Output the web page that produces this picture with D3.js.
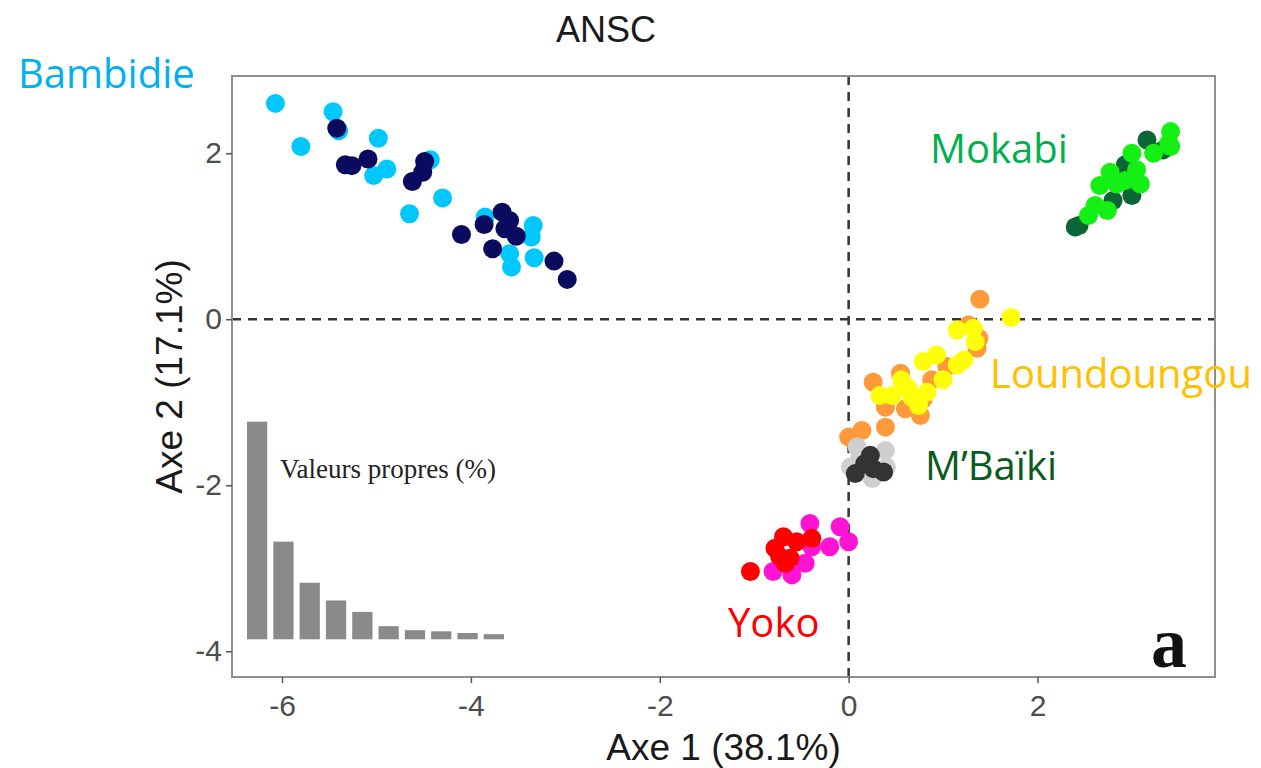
<!DOCTYPE html>
<html>
<head>
<meta charset="utf-8">
<script src="https://cdn.jsdelivr.net/npm/d3@7"></script>
<style>
  body { margin: 0; background: #fff; }
  svg { display: block; }
</style>
</head>
<body>
<svg id="chart" width="1261" height="768"></svg>
<script>
// PCA scores: [axe1, axe2]
const bambidieLight = [[-6.07, 2.60], [-5.46, 2.50], [-5.80, 2.08], [-4.98, 2.18], [-5.03, 1.73], [-4.89, 1.81],
  [-4.43, 1.92], [-4.30, 1.46], [-4.65, 1.27], [-3.85, 1.23], [-3.34, 1.13], [-3.36, 0.99], [-3.59, 0.79],
  [-3.57, 0.63], [-3.33, 0.74], [-5.40, 2.27]];
const bambidieDark = [[-5.42, 2.30], [-5.33, 1.86], [-5.26, 1.85], [-5.09, 1.93], [-4.49, 1.90], [-4.51, 1.77],
  [-4.62, 1.66], [-4.10, 1.02], [-3.86, 1.14], [-3.67, 1.29], [-3.59, 1.19], [-3.64, 1.09], [-3.52, 1.00],
  [-3.77, 0.85], [-3.12, 0.70], [-2.98, 0.48]];
const mokabiDark = [[2.44, 1.13], [2.40, 1.11], [3.16, 2.16], [2.93, 1.86], [3.00, 1.49], [3.33, 2.04], [2.80, 1.43], [2.87, 1.67]];
const mokabiLight = [[3.41, 2.26], [3.39, 2.12], [3.23, 2.00], [3.00, 2.00], [2.77, 1.77], [3.05, 1.80], [3.09, 1.63],
  [2.66, 1.61], [2.84, 1.63], [2.61, 1.37], [2.74, 1.31], [2.93, 1.67], [3.41, 2.08], [2.54, 1.25]];
const loundoungouOrange = [[1.39, 0.24], [1.27, -0.07], [1.38, -0.23], [1.36, -0.35], [0.55, -0.65], [0.26, -0.76],
  [0.88, -0.73], [1.04, -0.57], [0.39, -1.06], [0.60, -1.08], [0.76, -1.16], [0.39, -1.30], [0.14, -1.34],
  [0.00, -1.42], [0.79, -0.96]];
const loundoungouYellow = [[1.72, 0.02], [1.15, -0.13], [1.32, -0.11], [1.34, -0.27], [0.93, -0.43], [0.79, -0.51],
  [1.22, -0.49], [1.15, -0.55], [1.00, -0.73], [0.56, -0.73], [0.33, -0.92], [0.46, -0.92], [0.63, -0.83],
  [0.83, -0.88], [0.74, -1.04], [0.67, -0.94]];
const mbaikiLight = [[0.09, -1.54], [0.39, -1.58], [0.02, -1.78], [0.25, -1.92], [0.40, -1.78], [0.12, -1.66]];
const mbaikiDark = [[0.23, -1.64], [0.17, -1.74], [0.07, -1.86], [0.37, -1.84], [0.26, -1.80]];
const yokoMagenta = [[-0.41, -2.46], [-0.09, -2.50], [0.00, -2.68], [-0.20, -2.74], [-0.39, -2.74], [-0.46, -2.94],
  [-0.80, -3.04], [-0.60, -3.08]];
const yokoRed = [[-1.04, -3.04], [-0.78, -2.76], [-0.69, -2.62], [-0.55, -2.68], [-0.39, -2.64], [-0.67, -2.94],
  [-0.73, -2.86], [-0.62, -2.88]];

// eigenvalues inset (%)
const eigenValues = [38.1, 17.1, 9.9, 6.8, 4.8, 2.3, 1.6, 1.4, 1.1, 0.9];

const xTicks = [-6, -4, -2, 0, 2];
const yTicks = [-4, -2, 0, 2];

const groups = [
  { points: bambidieLight, color: '#00c8ff' },
  { points: bambidieDark, color: '#0a0a5e' },
  { points: mokabiDark, color: '#0a6634' },
  { points: mokabiLight, color: '#14f014' },
  { points: loundoungouOrange, color: '#ff9a3a' },
  { points: loundoungouYellow, color: '#ffff0a' },
  { points: mbaikiLight, color: '#cfcfcf' },
  { points: mbaikiDark, color: '#333333' },
  { points: yokoMagenta, color: '#ff14d4' },
  { points: yokoRed, color: '#ff0000' }
];

const labels = [
  { text: 'Bambidie', x: 18, y: 88, color: '#00b0f0' },
  { text: 'Mokabi', x: 930, y: 163, color: '#00b050' },
  { text: 'Loundoungou', x: 990, y: 388, color: '#ffc000' },
  { text: 'M\u2019Baïki', x: 925, y: 480, color: '#0a5a1e' },
  { text: 'Yoko', x: 728, y: 637, color: '#ff0000' }
];

const svg = d3.select('#chart');
const panel = { left: 232, right: 1215, top: 76, bottom: 677 };

const x = d3.scaleLinear().domain([-6.53, 3.88]).range([panel.left, panel.right]);
const y = d3.scaleLinear().domain([-4.31, 2.93]).range([panel.bottom, panel.top]);

// title
svg.append('text')
  .attr('x', 606).attr('y', 42)
  .attr('text-anchor', 'middle')
  .attr('font-family', 'Liberation Sans, Arial, sans-serif')
  .attr('font-size', 36)
  .attr('fill', '#1a1a1a')
  .text('ANSC');

// scree inset
const barX = d3.scaleBand().domain(d3.range(eigenValues.length)).range([247, 504]).paddingInner(0.23);
const barY = d3.scaleLinear().domain([0, 38.1]).range([639.3, 421.7]);
svg.append('g').selectAll('rect')
  .data(eigenValues)
  .join('rect')
  .attr('x', (d, i) => barX(i))
  .attr('y', d => barY(d))
  .attr('width', barX.bandwidth())
  .attr('height', d => barY(0) - barY(d))
  .attr('fill', '#8a8a8a');
svg.append('text')
  .attr('x', 280).attr('y', 478)
  .attr('font-family', 'Liberation Serif, Times New Roman, serif')
  .attr('font-size', 27)
  .attr('fill', '#222')
  .text('Valeurs propres (%)');

// reference lines
svg.append('line')
  .attr('x1', panel.left).attr('x2', panel.right)
  .attr('y1', y(0)).attr('y2', y(0))
  .attr('stroke', '#333').attr('stroke-width', 2.5).attr('stroke-dasharray', '9,7');
svg.append('line')
  .attr('x1', x(0)).attr('x2', x(0))
  .attr('y1', panel.top).attr('y2', panel.bottom)
  .attr('stroke', '#333').attr('stroke-width', 2.5).attr('stroke-dasharray', '9,7');

// points
const dotLayer = svg.append('g');
groups.forEach(g => {
  dotLayer.append('g').selectAll('circle')
    .data(g.points)
    .join('circle')
    .attr('cx', d => x(d[0]))
    .attr('cy', d => y(d[1]))
    .attr('r', 9.5)
    .attr('fill', g.color);
});

// panel border
svg.append('rect')
  .attr('x', panel.left).attr('y', panel.top)
  .attr('width', panel.right - panel.left)
  .attr('height', panel.bottom - panel.top)
  .attr('fill', 'none')
  .attr('stroke', '#8f8f8f')
  .attr('stroke-width', 2);

// axes
const xAxis = svg.append('g')
  .attr('transform', `translate(0,${panel.bottom})`)
  .call(d3.axisBottom(x).tickValues(xTicks).tickSize(6).tickPadding(12));
const yAxis = svg.append('g')
  .attr('transform', `translate(${panel.left},0)`)
  .call(d3.axisLeft(y).tickValues(yTicks).tickSize(6).tickPadding(4));
[xAxis, yAxis].forEach(ax => {
  ax.select('.domain').remove();
  ax.selectAll('line').attr('stroke', '#555').attr('stroke-width', 1.5);
  ax.selectAll('text')
    .attr('font-family', 'Liberation Sans, Arial, sans-serif')
    .attr('font-size', 30)
    .attr('fill', '#4d4d4d')
    .text(d => String(d)); // plain hyphen like the original
});

// axis titles
svg.append('text')
  .attr('x', (panel.left + panel.right) / 2).attr('y', 760)
  .attr('text-anchor', 'middle')
  .attr('font-family', 'Liberation Sans, Arial, sans-serif')
  .attr('font-size', 37)
  .attr('fill', '#1a1a1a')
  .text('Axe 1 (38.1%)');
svg.append('text')
  .attr('transform', `translate(182,${(panel.top + panel.bottom) / 2}) rotate(-90)`)
  .attr('text-anchor', 'middle')
  .attr('font-family', 'Liberation Sans, Arial, sans-serif')
  .attr('font-size', 37)
  .attr('fill', '#1a1a1a')
  .text('Axe 2 (17.1%)');

// panel tag
svg.append('text')
  .attr('x', 1187).attr('y', 667)
  .attr('text-anchor', 'end')
  .attr('font-family', 'Liberation Serif, Times New Roman, serif')
  .attr('font-weight', 'bold')
  .attr('font-size', 72)
  .attr('fill', '#111')
  .text('a');

// site labels
svg.append('g').selectAll('text')
  .data(labels)
  .join('text')
  .attr('x', d => d.x)
  .attr('y', d => d.y)
  .attr('font-family', 'Open Sans, sans-serif')
  .attr('font-size', 40)
  .attr('fill', d => d.color)
  .text(d => d.text);
</script>
</body>
</html>
